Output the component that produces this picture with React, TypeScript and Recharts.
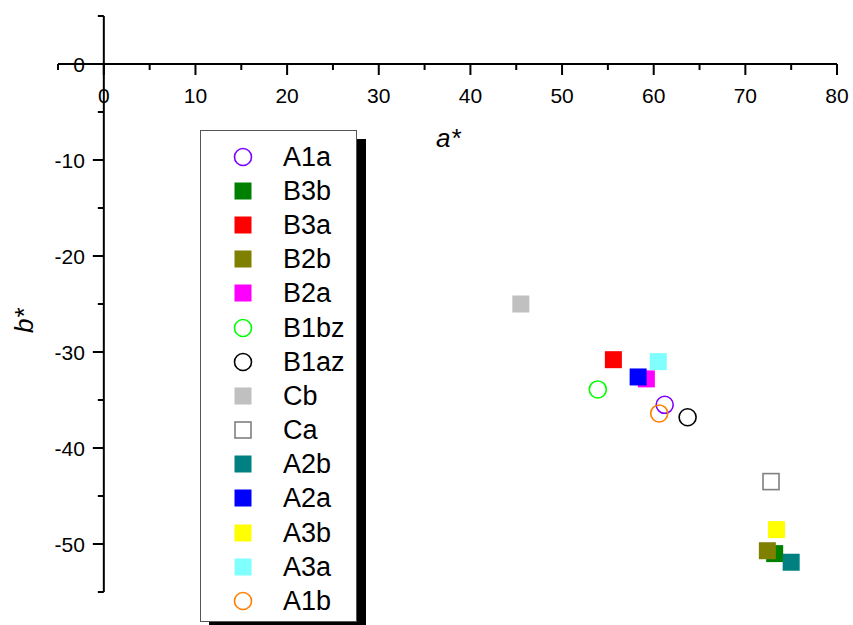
import React from 'react';
import { ScatterChart, Scatter, XAxis, YAxis, ReferenceLine, ReferenceDot, Legend } from 'recharts';

const seriesNames = ['A1a', 'B3b', 'B3a', 'B2b', 'B2a', 'B1bz', 'B1az', 'Cb', 'Ca', 'A2b', 'A2a', 'A3b', 'A3a', 'A1b'];
const aValues = [61.2, 73.2, 55.6, 72.4, 59.2, 53.9, 63.7, 45.5, 72.8, 75.0, 58.3, 73.4, 60.5, 60.6];
const bValues = [-35.5, -51.0, -30.8, -50.7, -32.8, -33.9, -36.8, -25.0, -43.5, -51.9, -32.6, -48.5, -31.0, -36.4];
const markerTypes = ['circle', 'square', 'square', 'square', 'square', 'circle', 'circle', 'square', 'openSquare', 'square', 'square', 'square', 'square', 'circle'];
const markerColors = ['#8000FF', '#008000', '#FF0000', '#808000', '#FF00FF', '#00FF00', '#000000', '#C0C0C0', '#808080', '#008080', '#0000FF', '#FFFF00', '#80FFFF', '#FF8000'];

const xMajorTicks = [0, 10, 20, 30, 40, 50, 60, 70, 80];
const xMinorTicks = [-5, 5, 15, 25, 35, 45, 55, 65, 75];
const yMajorTicks = [0, -10, -20, -30, -40, -50];
const yMinorTicks = [5, -5, -15, -25, -35, -45, -55];

const FONT = '"Liberation Sans", Arial, sans-serif';

function drawMarker(type: string, color: string, cx: number, cy: number) {
  if (type === 'circle') {
    return <circle cx={cx} cy={cy} r={8.5} fill="none" stroke={color} strokeWidth={1.6} />;
  }
  if (type === 'openSquare') {
    return <rect x={cx - 8} y={cy - 8} width={16} height={16} fill="#fff" stroke={color} strokeWidth={1.6} />;
  }
  return <rect x={cx - 8.5} y={cy - 8.5} width={17} height={17} fill={color} />;
}

const XMajor = (props: any) => {
  const { cx, cy, value } = props;
  return (
    <g>
      <line x1={cx} y1={cy} x2={cx} y2={cy + 11} stroke="#000" strokeWidth={2} />
      <text x={cx} y={cy + 39} textAnchor="middle" fontSize={21} fontFamily={FONT} fill="#000">{value}</text>
    </g>
  );
};
const XMinor = (props: any) => {
  const { cx, cy } = props;
  return <line x1={cx} y1={cy} x2={cx} y2={cy + 6} stroke="#000" strokeWidth={2} />;
};
const YMajor = (props: any) => {
  const { cx, cy, value } = props;
  return (
    <g>
      <line x1={cx} y1={cy} x2={cx - 11} y2={cy} stroke="#000" strokeWidth={2} />
      <text x={cx - 19} y={cy + 7.5} textAnchor="end" fontSize={21} fontFamily={FONT} fill="#000">{value}</text>
    </g>
  );
};
const YMinor = (props: any) => {
  const { cx, cy } = props;
  return <line x1={cx} y1={cy} x2={cx - 6} y2={cy} stroke="#000" strokeWidth={2} />;
};

const renderLegend = () => (
  <div
    style={{
      width: 157,
      height: 492,
      boxSizing: 'border-box',
      border: '1px solid #555',
      background: '#fff',
      boxShadow: '9px 9px 0 #000',
      paddingTop: 8.6,
      fontFamily: FONT,
    }}
  >
    {seriesNames.map((name, i) => (
      <div key={name} style={{ height: 34.2, display: 'flex', alignItems: 'center', position: 'relative' }}>
        <svg width={22} height={22} style={{ position: 'absolute', left: 31, top: 6 }}>
          {drawMarker(markerTypes[i], markerColors[i], 11, 11)}
        </svg>
        <span style={{ position: 'absolute', left: 82, top: 1, fontSize: 27, lineHeight: '32px', color: '#000' }}>{name}</span>
      </div>
    ))}
  </div>
);

export default function App() {
  return (
    <div style={{ position: 'absolute', left: 0, top: 0, width: 853, height: 625, background: '#fff' }}>
      <ScatterChart width={853} height={625} margin={{ top: 16, right: 16, bottom: 33, left: 58 }}>
        <XAxis type="number" dataKey="x" domain={[-5, 80]} allowDataOverflow hide />
        <YAxis type="number" dataKey="y" domain={[-55, 5]} allowDataOverflow hide />
        <ReferenceLine segment={[{ x: -5, y: 0 }, { x: 80, y: 0 }]} stroke="#000" strokeWidth={2} ifOverflow="visible" />
        <ReferenceLine segment={[{ x: 0, y: 5 }, { x: 0, y: -55 }]} stroke="#000" strokeWidth={2} ifOverflow="visible" />
        {xMajorTicks.map((t) => (
          <ReferenceDot key={'xM' + t} x={t} y={0} ifOverflow="visible" shape={(p: any) => <XMajor {...p} value={t} />} />
        ))}
        {xMinorTicks.map((t) => (
          <ReferenceDot key={'xm' + t} x={t} y={0} ifOverflow="visible" shape={(p: any) => <XMinor {...p} />} />
        ))}
        {yMajorTicks.map((t) => (
          <ReferenceDot key={'yM' + t} x={0} y={t} ifOverflow="visible" shape={(p: any) => <YMajor {...p} value={t} />} />
        ))}
        {yMinorTicks.map((t) => (
          <ReferenceDot key={'ym' + t} x={0} y={t} ifOverflow="visible" shape={(p: any) => <YMinor {...p} />} />
        ))}
        {seriesNames.map((name, i) => (
          <Scatter
            key={name}
            name={name}
            data={[{ x: aValues[i], y: bValues[i] }]}
            isAnimationActive={false}
            shape={(p: any) => drawMarker(markerTypes[i], markerColors[i], p.cx, p.cy)}
          />
        ))}
        <Legend
          layout="vertical"
          align="center"
          verticalAlign="middle"
          wrapperStyle={{ position: 'absolute', left: 200, top: 130, width: 157, height: 492 }}
          content={renderLegend}
        />
        <text x={436} y={147} fontSize={26} fontStyle="italic" fontFamily={FONT} fill="#000">a*</text>
        <text x={0} y={0} transform="translate(33,333) rotate(-90)" fontSize={26} fontStyle="italic" fontFamily={FONT} fill="#000">b*</text>
      </ScatterChart>
    </div>
  );
}
